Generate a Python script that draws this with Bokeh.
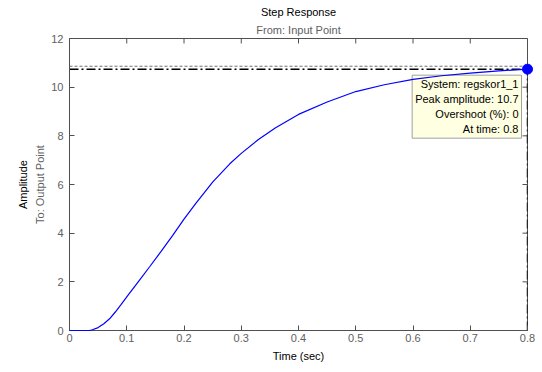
import math
from bokeh.plotting import figure
from bokeh.models import Label, Span, LinearAxis, FixedTicker, Title
from bokeh.embed import file_html
from bokeh.resources import INLINE

# data
time_s = [0, 0.035, 0.04, 0.05, 0.06, 0.07, 0.08, 0.09, 0.10, 0.12, 0.14, 0.16, 0.18,
          0.20, 0.22, 0.25, 0.28, 0.30, 0.33, 0.36, 0.40, 0.45, 0.50, 0.55, 0.60,
          0.65, 0.70, 0.75, 0.80]
amplitude = [0, 0, 0.03, 0.12, 0.28, 0.48, 0.76, 1.06, 1.38, 2.0, 2.62, 3.25, 3.9,
             4.58, 5.2, 6.1, 6.85, 7.28, 7.85, 8.33, 8.88, 9.39, 9.82, 10.1, 10.32,
             10.47, 10.58, 10.67, 10.74]
peak_time = 0.8
peak_amp = 10.74
final_value = 10.86
x_ticks = [0, 0.1, 0.2, 0.3, 0.4, 0.5, 0.6, 0.7, 0.8]
x_tick_labels = ["0", "0.1", "0.2", "0.3", "0.4", "0.5", "0.6", "0.7", "0.8"]
y_ticks = [0, 2, 4, 6, 8, 10, 12]
y_tick_labels = ["0", "2", "4", "6", "8", "10", "12"]
tip_lines = ["System: regskor1_1", "Peak amplitude: 10.7", "Overshoot (%): 0", "At time: 0.8"]

FONT = "Liberation Sans"
AX = "#505050"
TXT = "#606060"

p = figure(width=542, height=372, output_backend="svg", toolbar_location=None,
           x_range=(0, 0.8), y_range=(0, 12), x_axis_type=None, y_axis_type=None,
           min_border_left=69, min_border_right=15, min_border_top=38, min_border_bottom=42)
p.xgrid.visible = False
p.ygrid.visible = False
p.outline_line_color = AX
p.background_fill_color = "white"
p.border_fill_color = "white"


def style_axis(ax, ticks, labels):
    ax.ticker = FixedTicker(ticks=ticks)
    ax.major_label_overrides = {t: l for t, l in zip(ticks, labels)}
    ax.axis_line_color = AX
    ax.major_tick_line_color = AX
    ax.major_tick_in = 5
    ax.major_tick_out = 0
    ax.minor_tick_line_color = None
    ax.major_label_text_font = FONT
    ax.major_label_text_color = TXT
    ax.major_label_text_font_size = "11px"


xb = LinearAxis(axis_label="Time (sec)")
style_axis(xb, x_ticks, x_tick_labels)
xb.major_label_standoff = 3
xb.axis_label_standoff = 5
xb.axis_label_text_font = FONT
xb.axis_label_text_font_size = "11px"
xb.axis_label_text_font_style = "normal"
xb.axis_label_text_color = "black"
p.add_layout(xb, "below")

yl = LinearAxis(axis_label="To: Output Point")
style_axis(yl, y_ticks, y_tick_labels)
yl.major_label_standoff = 6
yl.axis_label_standoff = 2
yl.axis_label_text_font = FONT
yl.axis_label_text_font_size = "11px"
yl.axis_label_text_font_style = "normal"
yl.axis_label_text_color = TXT
p.add_layout(yl, "left")

yl2 = LinearAxis(axis_label="Amplitude", ticker=FixedTicker(ticks=[]))
yl2.axis_line_color = None
yl2.major_tick_line_color = None
yl2.minor_tick_line_color = None
yl2.axis_label_standoff = 3
yl2.axis_label_text_font = FONT
yl2.axis_label_text_font_size = "11px"
yl2.axis_label_text_font_style = "normal"
yl2.axis_label_text_color = "black"
p.add_layout(yl2, "left")

p.add_layout(Title(text="From: Input Point", align="center", text_font=FONT,
                   text_font_size="11px", text_font_style="normal", text_color=TXT,
                   standoff=6), "above")
p.add_layout(Title(text="Step Response", align="center", text_font=FONT,
                   text_font_size="11px", text_font_style="normal", text_color="black",
                   standoff=1), "above")

# box ticks on the top and right edges (clipped to the plot frame, half shows)
p.scatter(x_ticks, [12] * len(x_ticks), marker="dash", size=10, angle=math.pi / 2,
          line_color=AX, line_width=1)
p.scatter([0.8] * len(y_ticks), y_ticks, marker="dash", size=10,
          line_color=AX, line_width=1)

# reference lines
p.add_layout(Span(location=final_value, dimension="width", line_color="#707070",
                  line_dash="3 2", line_width=1))
p.line([0, peak_time], [peak_amp, peak_amp], line_color="black", line_width=1.5,
       line_dash="9 3 2 3")
p.line([peak_time, peak_time], [0, peak_amp], line_color="black", line_width=1.5,
       line_dash="9 3 2 3")

# response curve
p.line(time_s, amplitude, line_color="#0000ff", line_width=1.2, level="overlay")
p.scatter([peak_time], [peak_amp], size=10, fill_color="#0000ff", line_color="#0000ff",
          level="overlay")

# data tip
p.add_layout(Label(x=peak_time, y=peak_amp, x_offset=-6, y_offset=-6,
                   text="\n".join(tip_lines), anchor="top_right", text_align="right",
                   text_font=FONT, text_font_size="11px", text_color="black",
                   text_line_height=1.25, padding=3,
                   background_fill_color="#ffffe1", border_line_color="#a0a0a0"))

open("out.html", "w").write(file_html(p, INLINE))
